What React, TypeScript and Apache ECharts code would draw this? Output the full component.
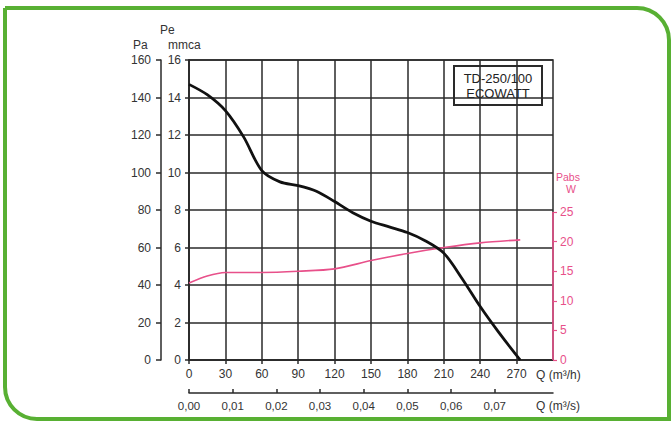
import React, { useEffect, useRef } from "react";
import * as echarts from "echarts";

// Q in m3/h, static pressure in mmca
const pressureQ = [0, 15, 30, 45, 60, 75, 90, 105, 120, 135, 150, 165, 180, 195, 210, 225, 240, 255, 273];
const pressureMmca = [14.7, 14.15, 13.3, 11.9, 10.1, 9.5, 9.3, 9.0, 8.45, 7.85, 7.4, 7.1, 6.8, 6.35, 5.7, 4.35, 2.85, 1.5, 0];

// Q in m3/h, absorbed power in W
const powerQ = [0, 15, 30, 60, 90, 120, 150, 180, 210, 240, 273];
const powerW = [13.0, 14.2, 14.8, 14.8, 15.0, 15.4, 16.8, 18.0, 19.0, 19.8, 20.3];

const qHourTicks = [0, 30, 60, 90, 120, 150, 180, 210, 240, 270];
const qSecTicks = [0, 0.01, 0.02, 0.03, 0.04, 0.05, 0.06, 0.07];
const wTicks = [0, 5, 10, 15, 20, 25];

const FONT = "'Liberation Sans', Arial, sans-serif";
const PINK = "#e8508a";
const DARK = "#2a2a2a";
const FS = 12;

export default function App() {
  const ref = useRef<HTMLDivElement>(null);
  useEffect(() => {
    if (!ref.current) return;
    const chart = echarts.init(ref.current, null, { renderer: "svg" });
    const txt = (x: number, y: number, text: string, color = "#333", size = 11, align = "left") => ({
      type: "text",
      x,
      y,
      style: { text, fill: color, font: `${size}px ${FONT}`, textAlign: align, textVerticalAlign: "middle" },
      silent: true,
    });
    chart.setOption({
      animation: false,
      backgroundColor: "#ffffff",
      textStyle: { fontFamily: FONT },
      grid: {
        left: 189,
        right: 118,
        top: 60,
        bottom: 61,
        show: true,
        borderColor: DARK,
        borderWidth: 1.5,
        backgroundColor: "transparent",
      },
      xAxis: [
        {
          type: "value",
          min: 0,
          max: 300,
          interval: 30,
          position: "bottom",
          axisLine: { show: true, onZero: false, lineStyle: { color: DARK, width: 1.5 } },
          axisTick: { show: true, length: 4, lineStyle: { color: DARK, width: 1.5 }, customValues: qHourTicks },
          axisLabel: { color: "#333", fontSize: FS, margin: 8, customValues: qHourTicks, fontFamily: FONT },
          splitLine: { show: true, lineStyle: { color: DARK, width: 1.5 } },
        },
        {
          type: "value",
          min: 0,
          max: 300 / 3600,
          interval: 0.01,
          position: "bottom",
          offset: 33,
          axisLine: { show: true, onZero: false, lineStyle: { color: DARK, width: 1.5 } },
          axisTick: { show: true, inside: true, length: 4, lineStyle: { color: DARK, width: 1.5 }, customValues: qSecTicks },
          axisLabel: {
            color: "#333",
            fontSize: 11.5,
            margin: 7,
            customValues: qSecTicks,
            fontFamily: FONT,
            formatter: (v: number) => v.toFixed(2).replace(".", ","),
          },
          splitLine: { show: false },
        },
      ],
      yAxis: [
        {
          type: "value",
          min: 0,
          max: 160,
          interval: 20,
          position: "left",
          offset: 28,
          axisLine: { show: true, onZero: false, lineStyle: { color: DARK, width: 1.5 } },
          axisTick: { show: true, length: 5, lineStyle: { color: DARK, width: 1.5 } },
          axisLabel: { color: "#333", fontSize: FS, margin: 10, fontFamily: FONT },
          splitLine: { show: false },
        },
        {
          type: "value",
          min: 0,
          max: 16,
          interval: 2,
          position: "left",
          axisLine: { show: true, onZero: false, lineStyle: { color: DARK, width: 1.5 } },
          axisTick: { show: true, length: 4, lineStyle: { color: DARK, width: 1.5 } },
          axisLabel: { color: "#333", fontSize: FS, margin: 8, fontFamily: FONT },
          splitLine: { show: true, lineStyle: { color: DARK, width: 1.5 } },
        },
        {
          type: "value",
          min: 0,
          max: 50.7,
          interval: 5,
          position: "right",
          axisLine: { show: false, onZero: false },
          axisTick: { show: true, length: 4, lineStyle: { color: PINK, width: 1.2 }, customValues: wTicks },
          axisLabel: { color: PINK, fontSize: FS, margin: 7, customValues: wTicks, fontFamily: FONT },
          splitLine: { show: false },
        },
      ],
      series: [
        {
          type: "line",
          name: "Pe",
          xAxisIndex: 0,
          yAxisIndex: 1,
          data: pressureQ.map((q, i) => [q, pressureMmca[i]]),
          smooth: 0.3,
          showSymbol: false,
          symbol: "none",
          lineStyle: { color: "#111", width: 2.8 },
          z: 5,
        },
        {
          type: "line",
          name: "Pabs",
          xAxisIndex: 0,
          yAxisIndex: 2,
          data: powerQ.map((q, i) => [q, powerW[i]]),
          smooth: 0.3,
          showSymbol: false,
          symbol: "none",
          lineStyle: { color: PINK, width: 1.6 },
          z: 4,
          markLine: {
            silent: true,
            symbol: "none",
            label: { show: false },
            lineStyle: { color: PINK, width: 1.6, type: "solid" },
            data: [[{ coord: [300, 0] }, { coord: [300, 25] }]],
          },
        },
      ],
      graphic: [
        {
          type: "rect",
          shape: { x: 5, y: 8, width: 664, height: 411, r: [0, 32, 0, 32] },
          style: { fill: "none", stroke: "#58b033", lineWidth: 4 },
          silent: true,
          z: 100,
        },
        txt(160, 30, "Pe", "#333", 12),
        txt(133, 45, "Pa", "#333", 12),
        txt(168, 45, "mmca", "#333", 12),
        txt(556, 177, "Pabs", PINK, 10.5),
        txt(566, 189, "W", PINK, 10.5),
        txt(536, 375, "Q (m³/h)", "#333", 12),
        txt(536, 406, "Q (m³/s)", "#333", 12),
        {
          type: "group",
          z: 50,
          children: [
            {
              type: "rect",
              shape: { x: 454, y: 66, width: 88, height: 39 },
              style: { fill: "#ffffff", stroke: DARK, lineWidth: 2 },
              silent: true,
            },
            txt(498, 78, "TD-250/100", "#222", 13, "center"),
            txt(498, 93, "ECOWATT", "#222", 13, "center"),
          ],
        },
      ],
    });
    return () => chart.dispose();
  }, []);
  return <div ref={ref} style={{ position: "fixed", left: 0, top: 0, width: 671, height: 421 }} />;
}
